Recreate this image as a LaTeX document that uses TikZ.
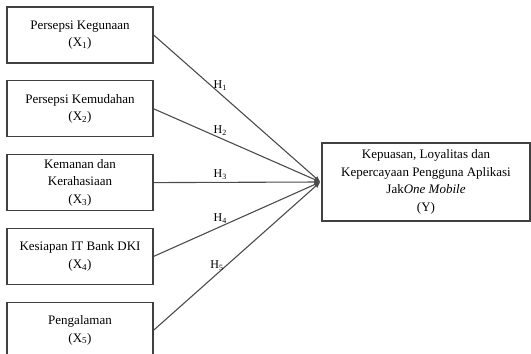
\documentclass[tikz,border=0pt]{standalone}
\usepackage{fontspec}
\setmainfont{Liberation Serif}
\usetikzlibrary{positioning,arrows.meta}

\begin{document}
\begin{tikzpicture}[
        x=1pt, y=-1pt,
        node distance=16.5pt,
        kotak/.style={rectangle, draw=black!75, line width=1.3pt, minimum width=146pt, minimum height=56pt,
            inner sep=0pt, align=center, font=\fontsize{13}{17.5}\selectfont},
        panah/.style={draw=black!70, line width=1.1pt, -{Latex[length=6pt,width=5pt]}},
        hipo/.style={font=\fontsize{12}{13}\selectfont, above, inner sep=2.5pt}
    ]
        \useasboundingbox (0,0) rectangle (531,354);

        % Variabel bebas
        \node[kotak] (x1) at (80,35) {Persepsi Kegunaan\\(X\textsubscript{1})};
        \node[kotak] (x2) [below=of x1] {Persepsi Kemudahan\\(X\textsubscript{2})};
        \node[kotak] (x3) [below=of x2] {Kemanan dan\\Kerahasiaan\\(X\textsubscript{3})};
        \node[kotak] (x4) [below=of x3] {Kesiapan IT Bank DKI\\(X\textsubscript{4})};
        \node[kotak] (x5) [below=of x4] {Pengalaman\\(X\textsubscript{5})};

        % Variabel terikat
        \node[kotak, minimum width=208pt, minimum height=78pt] (y) at (426,182)
            {Kepuasan, Loyalitas dan\\Kepercayaan Pengguna Aplikasi\\Jak\textit{One Mobile}\\(Y)};

        % Hipotesis
        \draw[panah] (x1.east) -- node[hipo, pos=0.4] {H\textsubscript{1}} ([xshift=-1pt]y.west);
        \draw[panah] (x2.east) -- node[hipo, pos=0.4] {H\textsubscript{2}} ([xshift=-1pt]y.west);
        \draw[panah] (x3.east) -- node[hipo, pos=0.4] {H\textsubscript{3}} ([xshift=-1pt]y.west);
        \draw[panah] (x4.east) -- node[hipo, pos=0.4] {H\textsubscript{4}} ([xshift=-1pt]y.west);
        \draw[panah] (x5.east) -- node[hipo, pos=0.38] {H\textsubscript{5}} ([xshift=-1pt]y.west);
    \end{tikzpicture}
\end{document}
